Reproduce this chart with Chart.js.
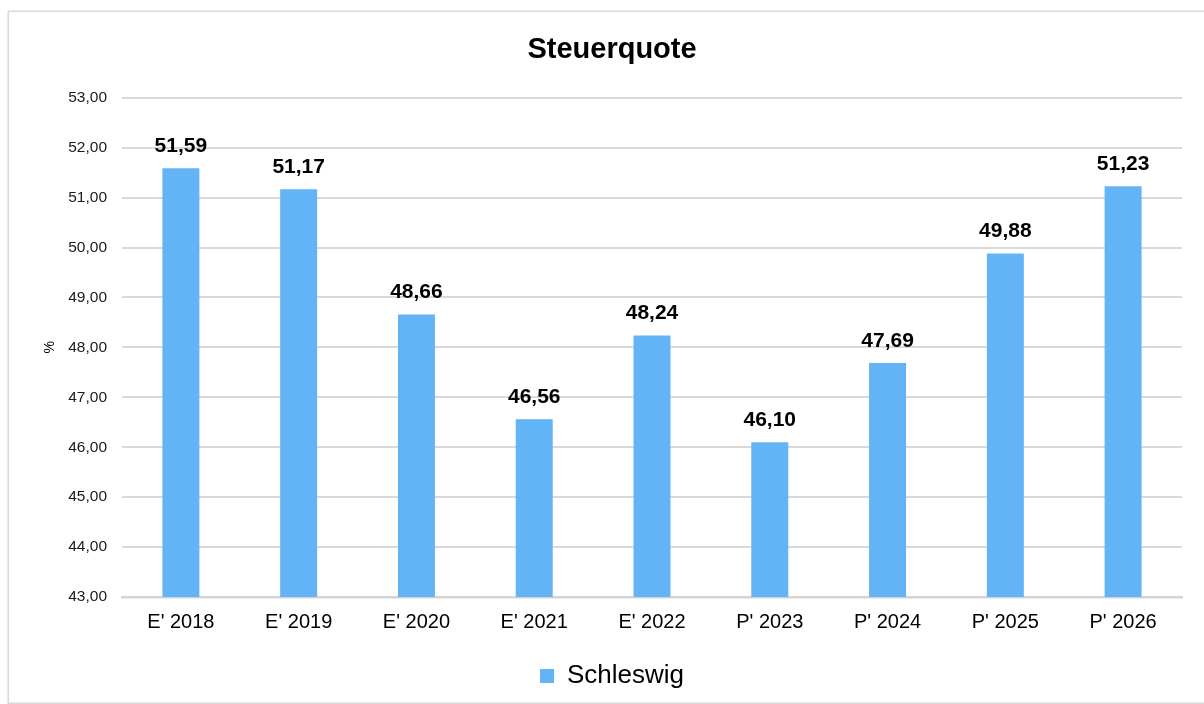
<!DOCTYPE html>
<html>
<head>
<meta charset="utf-8">
<script src="https://cdn.jsdelivr.net/npm/chart.js@4/dist/chart.umd.min.js"></script>
<style>
html,body{margin:0;padding:0;background:#fff;}
#wrap{position:relative;width:1204px;height:704px;}
</style>
</head>
<body>
<div id="wrap"><canvas id="c" width="1204" height="704"></canvas></div>
<script>
const categories = ["E' 2018","E' 2019","E' 2020","E' 2021","E' 2022","P' 2023","P' 2024","P' 2025","P' 2026"];
const schleswig = [51.59, 51.17, 48.66, 46.56, 48.24, 46.10, 47.69, 49.88, 51.23];
const seriesName = 'Schleswig';
const chartTitle = 'Steuerquote';
const yTitle = '%';
const yMin = 43, yMax = 53, yStep = 1;

const FONT = "'Liberation Sans', Arial, sans-serif";
const fmt = v => v.toFixed(2).replace('.', ',');

const framePlugin = {
  id: 'frame',
  beforeDraw(chart) {
    const ctx = chart.ctx;
    ctx.save();
    ctx.fillStyle = '#fff';
    ctx.fillRect(0, 0, chart.width, chart.height);
    ctx.strokeStyle = '#d9d9d9';
    ctx.lineWidth = 1.5;
    ctx.strokeRect(8.25, 11.25, 1220, 692);
    ctx.restore();
  }
};

const labelPlugin = {
  id: 'barLabels',
  afterDatasetsDraw(chart) {
    const ctx = chart.ctx;
    ctx.save();
    ctx.font = "bold 21px " + FONT;
    ctx.fillStyle = '#000';
    ctx.textAlign = 'center';
    ctx.textBaseline = 'middle';
    chart.data.datasets.forEach((ds, di) => {
      chart.getDatasetMeta(di).data.forEach((bar, i) => {
        ctx.fillText(fmt(ds.data[i]), bar.x, bar.y - 22);
      });
    });
    ctx.restore();
  }
};

new Chart(document.getElementById('c'), {
  type: 'bar',
  data: {
    labels: categories,
    datasets: [{
      label: seriesName,
      data: schleswig,
      backgroundColor: '#63B4F6',
      borderWidth: 0,
      barPercentage: 0.314,
      categoryPercentage: 1.0
    }]
  },
  options: {
    responsive: false,
    animation: false,
    devicePixelRatio: 1,
    layout: { padding: { left: 42, right: 22, top: 33, bottom: 5 } },
    plugins: {
      title: {
        display: true,
        text: chartTitle,
        color: '#000',
        font: { family: FONT, size: 29, weight: 'bold', lineHeight: 1.2 },
        padding: { top: 0, bottom: 30 }
      },
      legend: {
        display: true,
        position: 'bottom',
        labels: {
          color: '#000',
          boxWidth: 14,
          boxHeight: 14,
          padding: 10,
          font: { family: FONT, size: 26 }
        }
      },
      tooltip: { enabled: false }
    },
    scales: {
      x: {
        grid: { display: false },
        border: { display: true, color: '#d4d4d4', width: 2.5 },
        ticks: { color: '#000', font: { family: FONT, size: 20 }, padding: 5, maxRotation: 0 },
        afterFit(scale) { scale.height = 56; }
      },
      y: {
        min: yMin, max: yMax,
        border: { display: false },
        grid: { color: '#d9d9d9', lineWidth: 2, drawTicks: false },
        ticks: {
          stepSize: yStep,
          color: '#1a1a1a',
          padding: 15,
          font: { family: FONT, size: 15.5 },
          callback: v => fmt(v)
        },
        title: {
          display: true,
          text: yTitle,
          color: '#000',
          font: { family: FONT, size: 14 },
          padding: 0
        },
        afterFit(scale) { scale.width = 80; }
      }
    }
  },
  plugins: [framePlugin, labelPlugin]
});
</script>
</body>
</html>
